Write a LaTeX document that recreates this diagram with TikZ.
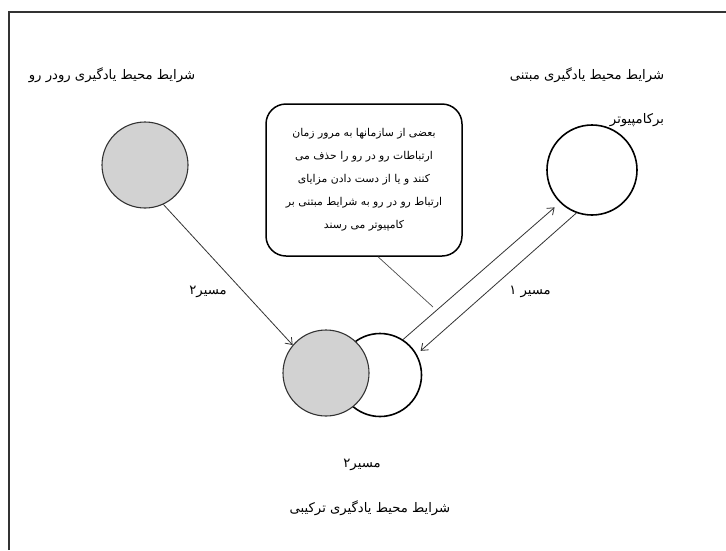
\documentclass[tikz,border=0pt]{standalone}
\usepackage{fontspec}
\newfontfamily\fa[Script=Arabic]{DejaVu Sans}
\TeXXeTstate=1
\usetikzlibrary{arrows.meta}
\begin{document}
\begin{tikzpicture}[x=1pt,y=-1pt,
  graycirc/.style={circle,draw=black!80,line width=1.1pt,fill=gray!35,minimum size=86pt,inner sep=0pt},
  whitecirc/.style={circle,draw=black,line width=1.6pt,fill=white,inner sep=0pt},
  lbl/.style={font=\fa\fontsize{13.2}{15}\selectfont,inner sep=0pt},
  arr/.style={draw=black!80,line width=0.8pt,-{Straight Barb[length=6pt,width=9pt]}},
  callout/.style={draw=black!70,line width=0.7pt}]
\useasboundingbox (0,0) rectangle (726,550);
\fill[white] (0,0) rectangle (726,550);
% frame
\coordinate (fr1) at (9,550);
\coordinate (fr2) at (9,12);
\coordinate (fr3) at (726,12);
\draw[line width=1.2pt,black!80] (fr1) -- (fr2) -- (fr3);

% titles
\node[lbl] (t1) at (112,75) {\beginR شرایط محیط یادگیری رودر رو\endR};
\node[lbl] (t2) at (587,75) {\beginR شرایط محیط یادگیری مبتنی\endR};
\node[lbl] (t3) at (637,120) {\beginR برکامپیوتر\endR};
\node[lbl] (t4) at (370,508) {\beginR شرایط محیط یادگیری ترکیبی\endR};
\node[lbl] (m2a) at (208,292) {\beginR مسیر۲\endR};
\node[lbl] (m1) at (530,292) {\beginR مسیر ۱\endR};
\node[lbl] (m2b) at (362,465) {\beginR مسیر۲\endR};

% circles
\node[graycirc] (tl) at (145,165) {};
\node[whitecirc,minimum size=90pt] (tr) at (592,170) {};
\node[whitecirc,minimum size=83pt] (wb) at (380,375) {};
\node[graycirc] (gb) at (326,373) {};

% callout box
\node[draw=black,line width=1.5pt,rounded corners=20pt,minimum width=196pt,minimum height=152pt,
      font=\fa\fontsize{10.8}{23}\selectfont,align=center,inner sep=0pt] (box) at (364,180)
  {\beginR بعضی از سازمانها به مرور زمان\endR\\
   \beginR ارتباطات رو در رو را حذف می\endR\\
   \beginR کنند و یا از دست دادن مزایای\endR\\
   \beginR ارتباط رو در رو به شرایط مبتنی بر\endR\\
   \beginR کامپیوتر می رسند\endR};
\coordinate (ctip) at (433,307);
\draw[callout] ([xshift=14pt]box.south) -- (ctip);

% arrows
\draw[arr] (tl.-65) -- (gb.140);
\draw[arr] (wb.57) -- ([shift={(-5pt,-5pt)}]tr.225);
\draw[arr] (tr.250) -- ([shift={(4pt,3pt)}]wb.30);
\end{tikzpicture}
\end{document}
